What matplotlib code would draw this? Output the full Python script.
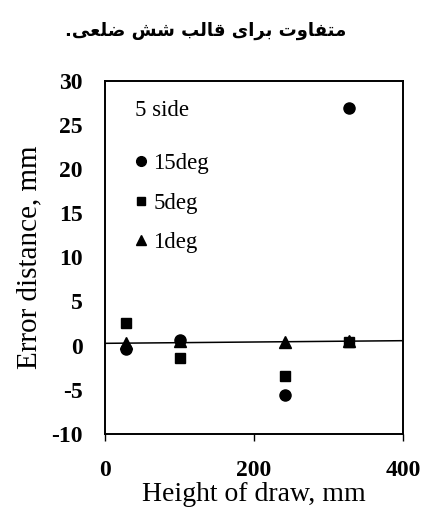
import matplotlib
matplotlib.use("Agg")
import matplotlib.pyplot as plt
from matplotlib.lines import Line2D

# ---- data ----
x_15deg = [28, 101, 242, 327]
y_15deg = [-0.4, 0.6, -5.6, 26.9]
x_5deg = [28, 101, 242, 327]
y_5deg = [2.5, -1.4, -3.5, 0.45]
x_1deg = [28, 101, 242, 327]
y_1deg = [0.3, 0.5, 0.45, 0.5]
zero_x = [0, 400]
zero_y = [0.25, 0.55]
xticks = [0, 200, 400]
yticks = [-10, -5, 0, 5, 10, 15, 20, 25, 30]
legend_labels = ["15deg", "5deg", "1deg"]

# Persian title in presentation forms, visual (left-to-right) order
title_fa = ("." + "\uFEF0\uFECC\uFEE0\uFEBF" + " " + "\uFEB6\uFEB7" + " "
            + "\uFE90\uFEDF\uFE8E\uFED7" + " " + "\uFEEF\uFE8D\uFEAE\uFE91" + " "
            + "\uFE95\uFEED\uFE8E\uFED4\uFE98\uFEE3")

serif = ["Liberation Serif", "DejaVu Serif"]

fig = plt.figure(figsize=(4.22, 5.14), dpi=100)
ax = fig.add_axes([0.249, 0.156, 0.706, 0.687])

ax.plot(zero_x, zero_y, color="black", lw=1.1, zorder=1)
ax.plot(x_1deg, y_1deg, linestyle="none", marker="^", ms=8.5, color="black", zorder=2)
ax.plot(x_5deg, y_5deg, linestyle="none", marker="s", ms=7.5, color="black", zorder=3)
ax.plot(x_15deg, y_15deg, linestyle="none", marker="o", ms=8, color="black", zorder=3)

ax.set_xlim(0, 400)
ax.set_ylim(-10, 30)
ax.set_xticks(xticks)
ax.set_yticks(yticks)
ax.set_xticklabels([str(t) for t in xticks], fontfamily=serif, fontweight="bold", fontsize=17)
ax.set_yticklabels([str(t) for t in yticks], fontfamily=serif, fontweight="bold", fontsize=17)
ax.tick_params(axis="y", length=0, pad=16)
ax.tick_params(axis="x", length=5, width=1, pad=14, direction="out")

for s in ax.spines.values():
    s.set_linewidth(1.4)

ax.set_xlabel("Height of draw, mm", fontfamily=serif, fontsize=20, labelpad=0.5)
ax.set_ylabel("Error distance, mm", fontfamily=serif, fontsize=21)
ax.yaxis.set_label_coords(-0.21, 0.5)

ax.text(0.1, 0.915, "5 side", transform=ax.transAxes, fontfamily=serif, fontsize=16.5,
        va="center", ha="left")

handles = [
    Line2D([], [], linestyle="none", marker="o", ms=7, color="black"),
    Line2D([], [], linestyle="none", marker="s", ms=6, color="black"),
    Line2D([], [], linestyle="none", marker="^", ms=7, color="black"),
]
ax.legend(handles, legend_labels, loc="upper left", bbox_to_anchor=(0.097, 0.796),
          frameon=False, prop={"family": serif, "size": 16.5}, labelspacing=0.82,
          handlelength=0.6, handletextpad=0.25, borderaxespad=0, borderpad=0)

fig.text(0.487, 0.94, title_fa, ha="center", va="center", fontsize=13,
         fontweight="bold", family=["DejaVu Sans"])

fig.savefig("out.png", dpi=100)
